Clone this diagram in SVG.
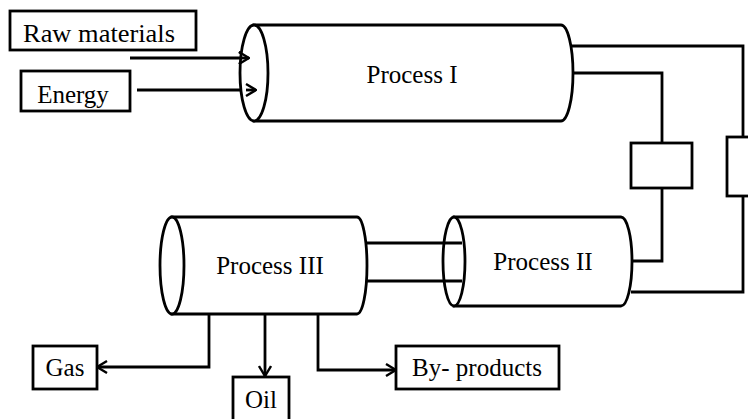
<svg xmlns="http://www.w3.org/2000/svg" width="748" height="419" viewBox="0 0 748 419">
  <defs>
    <marker id="arrow" viewBox="0 0 12 14" refX="11" refY="7" markerWidth="12" markerHeight="14" markerUnits="userSpaceOnUse" orient="auto">
      <path d="M1,1 L11,7 L1,13" fill="none" stroke="#000" stroke-width="2.4" stroke-linejoin="miter"/>
    </marker>
  </defs>
  <style>
    .shape { fill: #fff; stroke: #000; stroke-width: 2.8; }
    .line { fill: none; stroke: #000; stroke-width: 2.8; }
    .label { font-family: "Liberation Serif", "Times New Roman", serif; font-size: 25px; fill: #000; text-anchor: middle; }
  </style>
  <rect width="748" height="419" fill="#fff"/>

  <!-- connectors -->
  <g id="connectors">
    <!-- inputs into Process I -->
    <path class="line" d="M130,58 H249" marker-end="url(#arrow)"/>
    <path class="line" d="M137,90 H256" marker-end="url(#arrow)"/>
    <!-- Process I to Process II, outer loop -->
    <path class="line" d="M572,46 H743 V137"/>
    <path class="line" d="M743,196 V292 H631"/>
    <!-- Process I to Process II, inner loop -->
    <path class="line" d="M572,73 H662 V143"/>
    <path class="line" d="M662,188 V261 H631"/>
    <!-- Process III to Process II -->
    <path class="line" d="M366,243 H462"/>
    <path class="line" d="M366,281 H462"/>
    <!-- Process III outputs -->
    <path class="line" d="M209,314 V367 H97" marker-end="url(#arrow)"/>
    <path class="line" d="M265,314 V376" marker-end="url(#arrow)"/>
    <path class="line" d="M318,314 V370 H396" marker-end="url(#arrow)"/>
  </g>

  <g id="raw-materials">
    <rect class="shape" x="10" y="11" width="186" height="39"/>
    <text class="label" x="99" y="42" textLength="152" lengthAdjust="spacingAndGlyphs">Raw materials</text>
  </g>

  <g id="energy">
    <rect class="shape" x="21" y="71" width="109" height="40"/>
    <text class="label" x="73" y="103">Energy</text>
  </g>

  <g id="process-1">
    <path class="shape" d="M254,25 H561 A12,48 0 0 1 561,121 H254 Z"/>
    <ellipse class="shape" cx="254" cy="73" rx="14" ry="48"/>
    <text class="label" x="412" y="83">Process I</text>
  </g>
  <!-- arrow tips drawn again over the cylinder face -->
  <g id="input-tips">
    <path class="line" d="M240,58 H249" marker-end="url(#arrow)"/>
    <path class="line" d="M246,90 H256" marker-end="url(#arrow)"/>
  </g>

  <g id="valve-1">
    <rect class="shape" x="631" y="143" width="61" height="45"/>
  </g>

  <g id="valve-2">
    <rect class="shape" x="727" y="137" width="40" height="59"/>
  </g>

  <g id="process-2">
    <path class="shape" d="M454,217 H621 A11,44.5 0 0 1 621,306 H454 Z"/>
    <ellipse class="shape" cx="454" cy="261.5" rx="11" ry="44.5"/>
    <path class="line" d="M443,243 H462 M443,281 H462"/>
    <text class="label" x="543" y="270">Process II</text>
  </g>

  <g id="process-3">
    <path class="shape" d="M172,217 H357 A10,48.5 0 0 1 357,314 H172 Z"/>
    <ellipse class="shape" cx="172" cy="265.5" rx="12" ry="48.5"/>
    <text class="label" x="270" y="274">Process III</text>
  </g>

  <g id="gas">
    <rect class="shape" x="33" y="346" width="64" height="43"/>
    <text class="label" x="65" y="376">Gas</text>
  </g>

  <g id="oil">
    <rect class="shape" x="233" y="377" width="56" height="50"/>
    <text class="label" x="261" y="408">Oil</text>
  </g>

  <g id="by-products">
    <rect class="shape" x="396" y="346" width="163" height="43"/>
    <text class="label" x="477" y="376">By- products</text>
  </g>
</svg>
